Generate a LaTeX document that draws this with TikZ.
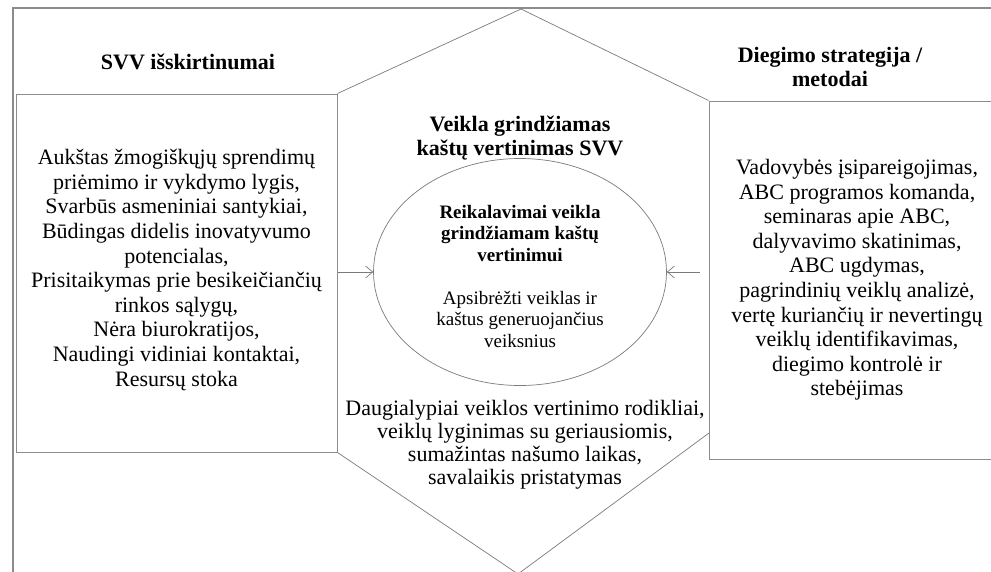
\documentclass[tikz,border=0pt]{standalone}
\usepackage{fontspec}
\setmainfont{Liberation Serif}
\usetikzlibrary{arrows.meta,shapes.geometric}
\definecolor{framegray}{HTML}{8C8C8C}
\definecolor{linegray}{HTML}{7A7A7A}
\begin{document}
\begin{tikzpicture}[x=1pt,y=-1pt,
  frame/.style={draw=framegray,line width=1.3pt},
  boxstyle/.style={draw=framegray,line width=1pt,fill=white,rectangle,inner sep=0pt},
  hexline/.style={draw=linegray,line width=0.7pt},
  body/.style={align=center,font=\fontsize{22}{23}\selectfont,inner sep=0pt},
  sidebody/.style={align=center,font=\fontsize{22}{24.6}\selectfont,inner sep=0pt},
  head/.style={align=center,font=\fontsize{22}{24}\selectfont\bfseries,inner sep=0pt},
  ovaltext/.style={align=center,font=\fontsize{19}{21.5}\selectfont,inner sep=0pt},
  feed/.style={draw=linegray,line width=0.7pt,-{Straight Barb[length=7pt,width=12pt]}}]
\useasboundingbox (0,0) rectangle (991,571);
\clip (0,0) rectangle (991,571);

% outer frame (open to the right and bottom)
\draw[frame] (13,575) -- (13,8) -- (1000,8);

% side boxes
\node[boxstyle,minimum width=321pt,minimum height=358pt] (lbox) at (176.5,273) {};
\node[boxstyle,minimum width=296pt,minimum height=358pt] (rbox) at (857,280) {};

% central hexagon
\coordinate (htop) at (521,9);
\coordinate (hlr) at (709,433);
\coordinate (hbot) at (518,574);
\draw[hexline] (lbox.north east) -- (htop) -- (rbox.north west);
\draw[hexline] (lbox.south east) -- (hbot) -- (hlr);

% central ellipse
\node[draw=linegray,line width=0.7pt,ellipse,minimum width=293pt,minimum height=227pt,inner sep=0pt] (req) at (520,272) {};
\node[ovaltext] (reqtext) at (520,276) {\textbf{Reikalavimai veikla}\\\textbf{grindžiamam kaštų}\\\textbf{vertinimui}\\[21.5pt]Apsibrėžti veiklas ir\\kaštus generuojančius\\veiksnius};

% arrows into the ellipse
\draw[feed] (lbox.east |- req.west) -- (req.west);
\draw[feed,shorten <=9pt] (rbox.west |- req.east) -- (req.east);

% headings
\node[head] (lhead) at (188,62) {SVV išskirtinumai};
\node[head] (chead) at (520,138) {Veikla grindžiamas\\kaštų vertinimas SVV};
\node[head] (rhead) at (830,67) {Diegimo strategija /\\metodai};

% box contents
\node[sidebody] (ltext) at (176.5,270) {Aukštas žmogiškųjų sprendimų\\priėmimo ir vykdymo lygis,\\Svarbūs asmeniniai santykiai,\\Būdingas didelis inovatyvumo\\potencialas,\\Prisitaikymas prie besikeičiančių\\rinkos sąlygų,\\Nėra biurokratijos,\\Naudingi vidiniai kontaktai,\\Resursų stoka};
\node[sidebody] (rtext) at (857,280) {Vadovybės įsipareigojimas,\\ABC programos komanda,\\seminaras apie ABC,\\dalyvavimo skatinimas,\\ABC ugdymas,\\pagrindinių veiklų analizė,\\vertę kuriančių ir nevertingų\\veiklų identifikavimas,\\diegimo kontrolė ir\\stebėjimas};
\node[body] (btext) at (525,445) {Daugialypiai veiklos vertinimo rodikliai,\\veiklų lyginimas su geriausiomis,\\sumažintas našumo laikas,\\savalaikis pristatymas};
\end{tikzpicture}
\end{document}
